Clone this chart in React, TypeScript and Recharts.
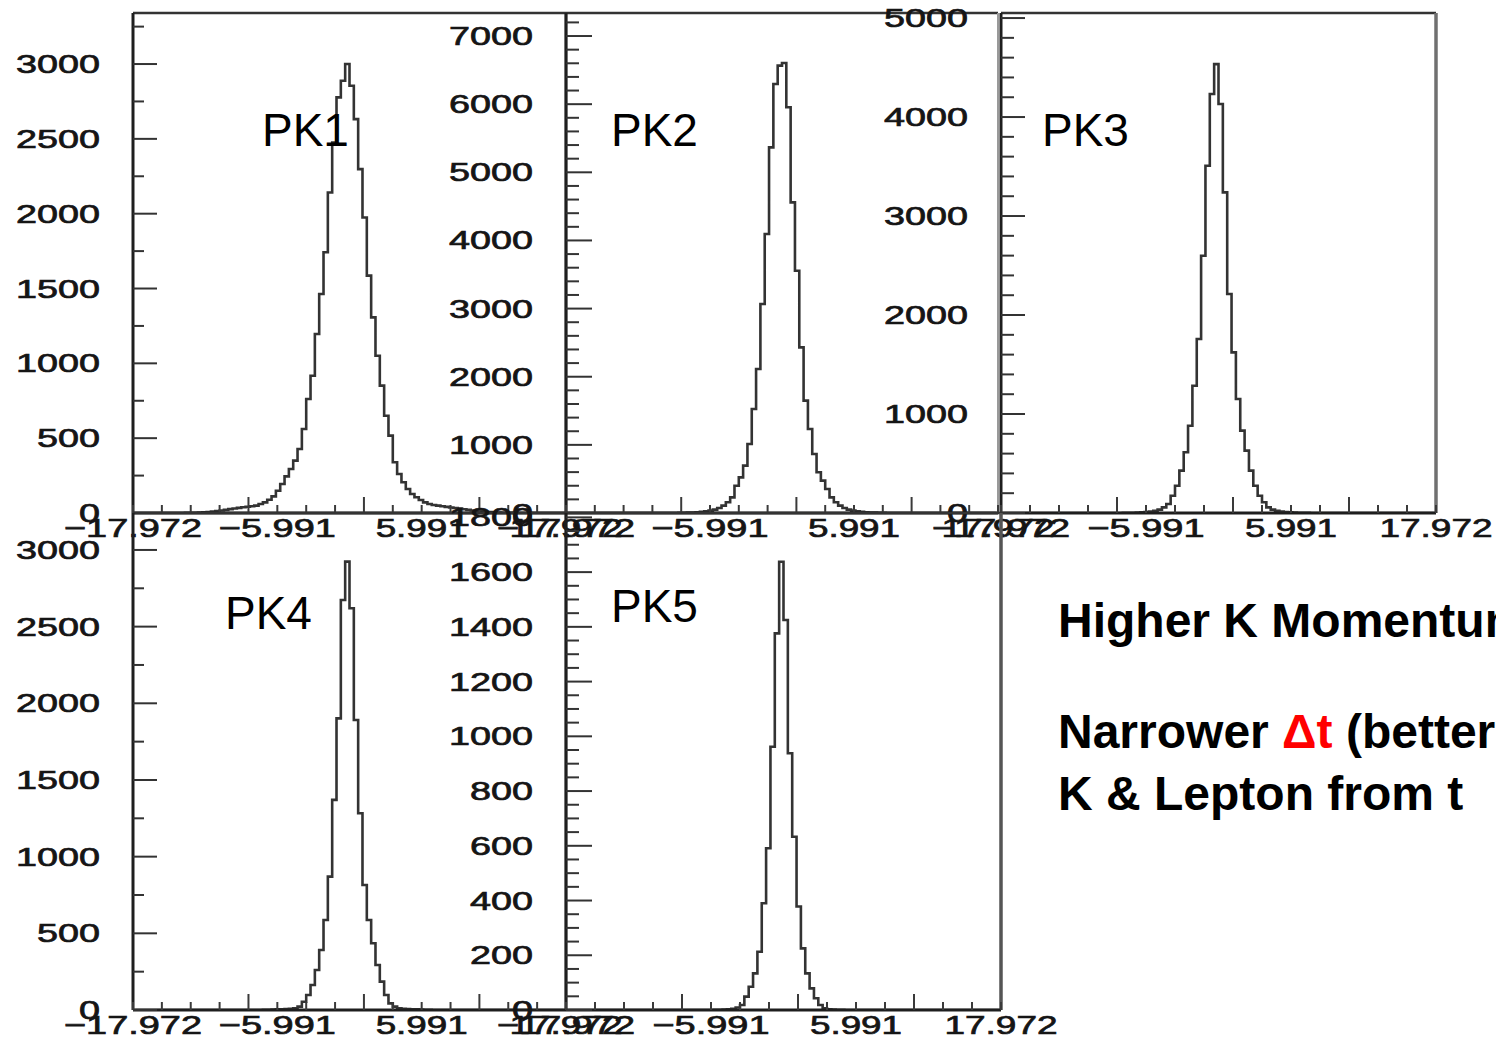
import React from 'react';
import { LineChart, Line, XAxis, YAxis, ReferenceLine } from 'recharts';

// Δt histogram range and binning (100 bins over ±17.972)
const X_MIN = -17.972;
const X_MAX = 17.972;
const BIN_COUNT = 100;
const X_DIVISIONS = 15;
const X_LABEL_EVERY = 5;
const X_TICK_LABELS = ['−17.972', '−5.991', '5.991', '17.972'];
const X_LONG_TICKS = [4, 8, 12];

// Bin contents, one array per kaon-momentum slice
const PK1_COUNTS = [
  0, 0, 0, 0, 0, 0, 0, 0, 0, 0,
  0, 0, 1, 1, 2, 3, 5, 7, 10, 13,
  17, 21, 26, 30, 34, 38, 42, 45, 49, 60,
  71, 89, 111, 149, 194, 245, 294, 350, 428, 561,
  762, 917, 1196, 1463, 1742, 2142, 2476, 2777, 2888, 3000,
  2855, 2632, 2298, 1975, 1586, 1307, 1051, 851, 650, 517,
  339, 261, 205, 160, 127, 105, 87, 71, 60, 53,
  49, 45, 41, 37, 33, 29, 25, 21, 17, 14,
  11, 8, 6, 4, 3, 2, 1, 1, 0, 0,
  0, 0, 0, 0, 0, 0, 0, 0, 0, 0,
];

const PK2_COUNTS = [
  0, 0, 0, 0, 0, 0, 0, 0, 0, 0,
  0, 0, 0, 0, 0, 0, 0, 0, 0, 0,
  0, 0, 0, 0, 0, 0, 2, 3, 5, 8,
  12, 18, 25, 35, 49, 73, 108, 157, 230, 401,
  523, 695, 1013, 1526, 2113, 3067, 4095, 5366, 6296, 6565,
  6604, 5954, 4559, 3556, 2431, 1649, 1233, 866, 597, 475,
  352, 230, 157, 108, 73, 49, 35, 25, 18, 12,
  8, 5, 3, 2, 1, 0, 0, 0, 0, 0,
  0, 0, 0, 0, 0, 0, 0, 0, 0, 0,
  0, 0, 0, 0, 0, 0, 0, 0, 0, 0,
];

const PK3_COUNTS = [
  0, 0, 0, 0, 0, 0, 0, 0, 0, 0,
  0, 0, 0, 0, 0, 0, 0, 0, 0, 0,
  0, 0, 0, 0, 0, 0, 0, 0, 2, 3,
  3, 4, 6, 10, 15, 22, 34, 57, 91, 175,
  276, 428, 613, 882, 1286, 1758, 2599, 3508, 4232, 4535,
  4131, 3239, 2212, 1623, 1151, 832, 630, 428, 276, 175,
  108, 57, 34, 22, 15, 10, 6, 4, 3, 2,
  1, 0, 0, 0, 0, 0, 0, 0, 0, 0,
  0, 0, 0, 0, 0, 0, 0, 0, 0, 0,
  0, 0, 0, 0, 0, 0, 0, 0, 0, 0,
];

const PK4_COUNTS = [
  0, 0, 0, 0, 0, 0, 0, 0, 0, 0,
  0, 0, 0, 0, 0, 0, 0, 0, 0, 0,
  0, 0, 0, 0, 0, 0, 0, 0, 0, 0,
  1, 2, 3, 4, 5, 6, 8, 11, 22, 54,
  98, 163, 261, 391, 587, 870, 1370, 1902, 2674, 2924,
  2620, 1891, 1283, 815, 587, 435, 293, 185, 98, 43,
  22, 11, 8, 6, 5, 4, 3, 2, 1, 0,
  0, 0, 0, 0, 0, 0, 0, 0, 0, 0,
  0, 0, 0, 0, 0, 0, 0, 0, 0, 0,
  0, 0, 0, 0, 0, 0, 0, 0, 0, 0,
];

const PK5_COUNTS = [
  0, 0, 0, 0, 0, 0, 0, 0, 0, 0,
  0, 0, 0, 0, 0, 0, 0, 0, 0, 0,
  0, 0, 0, 0, 0, 0, 0, 0, 0, 0,
  0, 0, 0, 0, 1, 1, 2, 3, 4, 9,
  18, 49, 85, 134, 213, 390, 591, 962, 1376, 1638,
  1425, 938, 633, 378, 225, 134, 79, 43, 18, 6,
  3, 2, 1, 1, 0, 0, 0, 0, 0, 0,
  0, 0, 0, 0, 0, 0, 0, 0, 0, 0,
  0, 0, 0, 0, 0, 0, 0, 0, 0, 0,
  0, 0, 0, 0, 0, 0, 0, 0, 0, 0,
];

// Y-axis labelled values, minor tick step and axis maximum per panel
const PK1_Y_LABELS = [0, 500, 1000, 1500, 2000, 2500, 3000];
const PK2_Y_LABELS = [0, 1000, 2000, 3000, 4000, 5000, 6000, 7000];
const PK3_Y_LABELS = [0, 1000, 2000, 3000, 4000, 5000];
const PK4_Y_LABELS = [0, 500, 1000, 1500, 2000, 2500, 3000];
const PK5_Y_LABELS = [0, 200, 400, 600, 800, 1000, 1200, 1400, 1600, 1800];
const Y_MINOR_STEPS = [250, 200, 200, 250, 50];
const Y_MAXIMA = [3341, 7338, 5051, 3241, 1816];

const PANEL_NAMES = ['PK1', 'PK2', 'PK3', 'PK4', 'PK5'];

const NOTE_LINE_1 = 'Higher K Momentum';
const NOTE_LINE_2_A = 'Narrower ';
const NOTE_LINE_2_B = 'Δt';
const NOTE_LINE_2_C = ' (better';
const NOTE_LINE_3 = 'K & Lepton from t';

const FONT = "'Liberation Sans', Arial, Helvetica, sans-serif";
const BIN_WIDTH = (X_MAX - X_MIN) / BIN_COUNT;
const X_STEP = (X_MAX - X_MIN) / X_DIVISIONS;
const X_TICKS = Array.from({ length: X_DIVISIONS + 1 }, (_, k) =>
  Number((X_MIN + k * X_STEP).toFixed(4))
);

const toBins = (counts: number[]) =>
  counts.map((c, i) => ({ x: X_MIN + (i + 0.5) * BIN_WIDTH, y: c }));

const yTicksFor = (step: number, max: number) => {
  const out: number[] = [];
  for (let v = 0; v <= max + 1e-9; v += step) out.push(v);
  return out;
};

// stretched axis-label glyph widths
const labelWidth = (s: string) =>
  s.split('').reduce((w, c) => w + (c === '.' ? 8 : c === '−' ? 25 : 21), 0);

const AxisText = ({ x, y, text }: { x: number; y: number; text: string }) => {
  const w = labelWidth(text);
  return (
    <text
      x={x}
      y={y}
      textLength={w}
      lengthAdjust="spacingAndGlyphs"
      fontFamily={FONT}
      fontSize={26}
      fill="#151515"
      stroke="#151515"
      strokeWidth={0.7}
    >
      {text}
    </text>
  );
};

const XTick = (props: any) => {
  const { x, y, payload } = props;
  const k = Math.round((payload.value - X_MIN) / X_STEP);
  const long = X_LONG_TICKS.includes(k);
  const label = k % X_LABEL_EVERY === 0 ? X_TICK_LABELS[k / X_LABEL_EVERY] : null;
  return (
    <g>
      <line x1={x} y1={y} x2={x} y2={y - (long ? 16 : 8)} stroke="#3a3a3a" strokeWidth={2} />
      {label && <AxisText x={x - labelWidth(label) / 2} y={y + 24} text={label} />}
    </g>
  );
};

const makeYTick = (labels: number[], majorLen: number, minorLen: number) => (props: any) => {
  const { x, y, payload } = props;
  const v = Math.round(payload.value);
  const major = labels.includes(v);
  const txt = String(v);
  return (
    <g>
      <line x1={x} y1={y} x2={x + (major ? majorLen : minorLen)} y2={y} stroke="#333" strokeWidth={2} />
      {major && <AxisText x={x - 33 - labelWidth(txt)} y={y + 9} text={txt} />}
    </g>
  );
};

type Frame = { left: number; top: number; width: number; height: number };

const PANELS = [
  { counts: PK1_COUNTS, labels: PK1_Y_LABELS, frame: { left: 133, top: 13, width: 433, height: 500 }, major: 24, minor: 11, right: '#333', rightW: 2.5 },
  { counts: PK2_COUNTS, labels: PK2_Y_LABELS, frame: { left: 566, top: 13, width: 432, height: 500 }, major: 26, minor: 13, right: '#9a9a9a', rightW: 2 },
  { counts: PK3_COUNTS, labels: PK3_Y_LABELS, frame: { left: 1001, top: 13, width: 435, height: 500 }, major: 24, minor: 13, right: '#707070', rightW: 3.5 },
  { counts: PK4_COUNTS, labels: PK4_Y_LABELS, frame: { left: 133, top: 513, width: 433, height: 497 }, major: 24, minor: 11, right: '#333', rightW: 2.5 },
  { counts: PK5_COUNTS, labels: PK5_Y_LABELS, frame: { left: 566, top: 513, width: 435, height: 497 }, major: 26, minor: 13, right: '#555', rightW: 3.5 },
];

const PAD_L = 140;
const PAD_T = 20;
const PAD_R = 80;
const PAD_B = 40;
const Y_AXIS_W = 40;
const X_AXIS_H = 30;

const Histogram = ({ idx }: { idx: number }) => {
  const p = PANELS[idx];
  const f: Frame = p.frame;
  const yMax = Y_MAXIMA[idx];
  const data = toBins(p.counts);
  return (
    <div
      style={{
        position: 'absolute',
        left: f.left - PAD_L,
        top: f.top - PAD_T,
        width: f.width + PAD_L + PAD_R,
        height: f.height + PAD_T + PAD_B,
      }}
    >
      <LineChart
        width={f.width + PAD_L + PAD_R}
        height={f.height + PAD_T + PAD_B}
        data={data}
        margin={{ left: PAD_L - Y_AXIS_W, top: PAD_T, right: PAD_R, bottom: PAD_B - X_AXIS_H }}
      >
        <XAxis
          type="number"
          dataKey="x"
          domain={[X_MIN, X_MAX]}
          ticks={X_TICKS}
          interval={0}
          height={X_AXIS_H}
          tickSize={0}
          tickMargin={0}
          tickLine={false}
          tick={XTick}
          allowDataOverflow
          axisLine={{ stroke: '#1e1e1e', strokeWidth: 3 }}
        />
        <YAxis
          type="number"
          domain={[0, yMax]}
          ticks={yTicksFor(Y_MINOR_STEPS[idx], yMax)}
          interval={0}
          width={Y_AXIS_W}
          tickSize={0}
          tickMargin={0}
          tickLine={false}
          tick={makeYTick(p.labels, p.major, p.minor)}
          allowDataOverflow
          axisLine={{ stroke: '#1e1e1e', strokeWidth: 3 }}
        />
        <ReferenceLine y={yMax} stroke="#333" strokeWidth={2.5} />
        <ReferenceLine x={X_MAX} stroke={p.right} strokeWidth={p.rightW} />
        <Line
          type="step"
          dataKey="y"
          stroke="#333"
          strokeWidth={2.6}
          dot={false}
          activeDot={false}
          isAnimationActive={false}
        />
      </LineChart>
    </div>
  );
};

const TITLE_POS = [
  { x: 262, y: 146 },
  { x: 611, y: 146 },
  { x: 1042, y: 146 },
  { x: 225, y: 629 },
  { x: 611, y: 622 },
];

export default function App() {
  return (
    <div
      style={{
        position: 'fixed',
        left: 0,
        top: 0,
        width: 1496,
        height: 1040,
        overflow: 'hidden',
        background: '#fff',
      }}
    >
      {PANELS.map((_, i) => (
        <Histogram key={i} idx={i} />
      ))}
      <svg
        width={1496}
        height={1040}
        style={{ position: 'absolute', left: 0, top: 0, pointerEvents: 'none' }}
      >
        {PANEL_NAMES.map((n, i) => (
          <text key={n} x={TITLE_POS[i].x} y={TITLE_POS[i].y} fontFamily={FONT} fontSize={46} fill="#000">
            {n}
          </text>
        ))}
        <g fontFamily={FONT} fontSize={48} fontWeight="bold" fill="#000">
          <text x={1058} y={637}>{NOTE_LINE_1}</text>
          <text x={1058} y={748}>
            <tspan>{NOTE_LINE_2_A}</tspan>
            <tspan fill="#ff0000">{NOTE_LINE_2_B}</tspan>
            <tspan>{NOTE_LINE_2_C}</tspan>
          </text>
          <text x={1058} y={810}>{NOTE_LINE_3}</text>
        </g>
      </svg>
    </div>
  );
}
